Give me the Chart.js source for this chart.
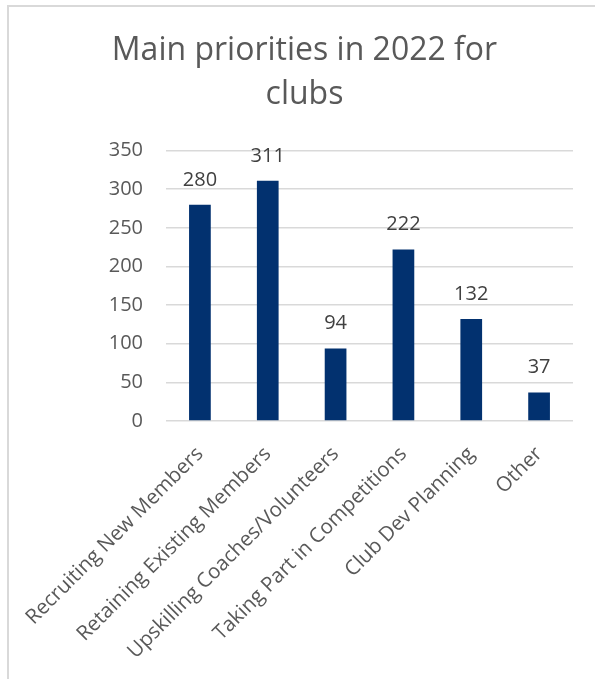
<!DOCTYPE html>
<html>
<head>
<meta charset="utf-8">
<script src="https://cdn.jsdelivr.net/npm/chart.js@4.4.0/dist/chart.umd.min.js"></script>
<style>
  html, body { margin: 0; padding: 0; background: #fff; overflow: hidden; }
  #frame { position: absolute; left: 7px; top: 5px; width: 700px; height: 700px;
           border-left: 2px solid #d9d9d9; border-top: 2px solid #d9d9d9; }
  #app { position: absolute; left: 0; top: 0; width: 595px; height: 679px; }
</style>
</head>
<body>
<div id="frame"></div>
<div id="app"><canvas id="chart" width="595" height="679"></canvas></div>
<script>
const categories = [
    "Recruiting New Members",
    "Retaining Existing Members",
    "Upskilling Coaches/Volunteers",
    "Taking Part in Competitions",
    "Club Dev Planning",
    "Other"
]
const responses = [280, 311, 94, 222, 132, 37]
const titleLines = ["Main priorities in 2022 for", "clubs"]
const yTicks = [0, 50, 100, 150, 200, 250, 300, 350]

const fontFamily = "'Open Sans', 'Noto Sans', sans-serif"

// values drawn above each bar
const barValues = {
    id: "barValues",
    afterDatasetsDraw(chart){
        const ctx = chart.ctx
        const meta = chart.getDatasetMeta(0)
        ctx.save()
        ctx.font = "20px " + fontFamily
        ctx.fillStyle = "#404040"
        ctx.textAlign = "center"
        ctx.textBaseline = "alphabetic"
        meta.data.forEach(function(bar, i){
            ctx.fillText(String(responses[i]), bar.x, bar.y - 19)
        })
        ctx.restore()
    }
}

function main(){
    const canvas = document.getElementById("chart").getContext("2d")
    new Chart(canvas, {
        type: "bar",
        data: {
            labels: categories,
            datasets: [{
                label: "Clubs",
                data: responses,
                backgroundColor: "#02316f",
                borderWidth: 0,
                barPercentage: 0.32,
                categoryPercentage: 1
            }]
        },
        options: {
            responsive: false,
            animation: false,
            layout: { padding: { left: 36, right: 22, top: 0, bottom: 0 } },
            plugins: {
                legend: { display: false },
                tooltip: { enabled: false },
                title: {
                    display: true,
                    text: titleLines,
                    color: "#595959",
                    font: { family: fontFamily, size: 32, weight: "normal", lineHeight: 1.4 },
                    padding: { top: 28, bottom: 33 }
                }
            },
            scales: {
                x: {
                    grid: { display: false },
                    border: { display: false },
                    ticks: {
                        autoSkip: false,
                        minRotation: 45,
                        maxRotation: 45,
                        padding: 13,
                        color: "#595959",
                        font: { family: fontFamily, size: 20.5 }
                    },
                    afterFit(scale){ scale.height = 258 }
                },
                y: {
                    min: 0,
                    max: 350,
                    afterBuildTicks(scale){ scale.ticks = yTicks.map(v => ({ value: v })) },
                    grid: { color: "#d9d9d9", lineWidth: 1.5, drawTicks: false },
                    border: { display: false },
                    ticks: {
                        padding: 23,
                        color: "#595959",
                        font: { family: fontFamily, size: 20 }
                    },
                    afterFit(scale){ scale.width = 130 }
                }
            }
        },
        plugins: [barValues]
    })
}

main()
</script>
</body>
</html>
